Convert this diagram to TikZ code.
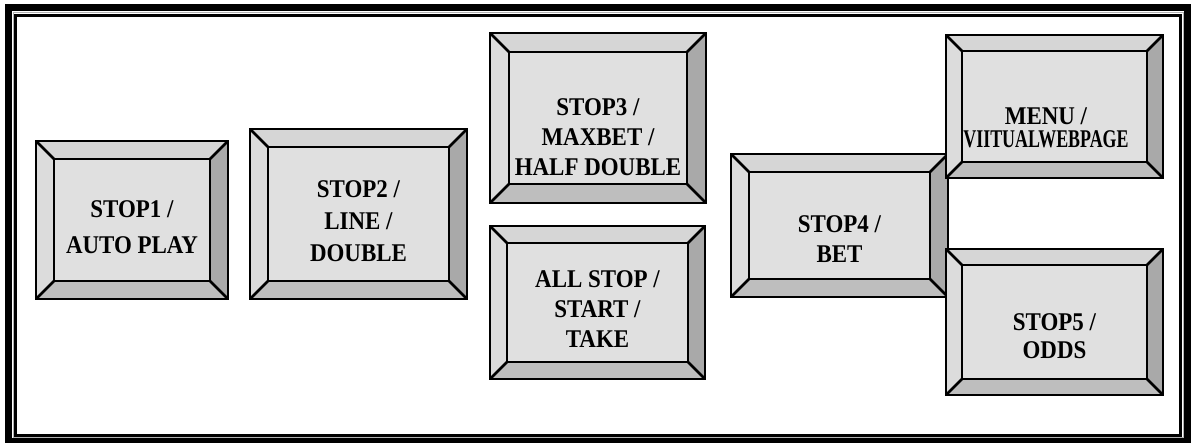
\documentclass[tikz,border=0pt]{standalone}
\usepackage{fontspec}
\setmainfont[FakeStretch=0.9]{Liberation Serif}
\usepackage{graphicx}

\definecolor{keyface}{HTML}{E0E0E0}
\definecolor{keytop}{HTML}{D6D6D6}
\definecolor{keyleft}{HTML}{DCDCDC}
\definecolor{keyright}{HTML}{A9A9A9}
\definecolor{keybottom}{HTML}{BEBEBE}

\tikzset{
	keyedge/.style={draw=black, line width=2.6pt, line join=miter},
	keylabel/.style={align=center, inner sep=0pt, font=\bfseries\fontsize{25.5}{30}\selectfont},
}

% bevelled key: x1, y1, x2, y2, bevel (pixel units, y down)
\newcommand{\bevelkey}[5]{%
	\fill[keyface] (#1+#5,#2+#5) rectangle (#3-#5,#4-#5);
	\fill[keytop] (#1,#2) -- (#3,#2) -- (#3-#5,#2+#5) -- (#1+#5,#2+#5) -- cycle;
	\fill[keyleft] (#1,#2) -- (#1+#5,#2+#5) -- (#1+#5,#4-#5) -- (#1,#4) -- cycle;
	\fill[keyright] (#3,#2) -- (#3,#4) -- (#3-#5,#4-#5) -- (#3-#5,#2+#5) -- cycle;
	\fill[keybottom] (#1,#4) -- (#1+#5,#4-#5) -- (#3-#5,#4-#5) -- (#3,#4) -- cycle;
	\draw[keyedge] (#1,#2) rectangle (#3,#4);
	\draw[keyedge] (#1+#5,#2+#5) rectangle (#3-#5,#4-#5);
	\draw[keyedge] (#1,#2) -- (#1+#5,#2+#5);
	\draw[keyedge] (#3,#2) -- (#3-#5,#2+#5);
	\draw[keyedge] (#1,#4) -- (#1+#5,#4-#5);
	\draw[keyedge] (#3,#4) -- (#3-#5,#4-#5);
}

\begin{document}
\begin{tikzpicture}[x=1pt, y=-1pt]
	\useasboundingbox (0,0) rectangle (1192,443);
	% frame
	\draw[line width=7pt] (8.5,7.5) rectangle (1187.5,441.5);
	\draw[line width=1pt, gray!60] (13,13) rectangle (1183,438);
	\draw[line width=2.4pt] (15.5,15.5) rectangle (1180.5,435.5);

	% keys
	\bevelkey{36}{141}{228}{299}{18}
	\bevelkey{250}{129}{467}{299}{18}
	\bevelkey{490}{33}{706}{203}{19}
	\bevelkey{490}{226}{705}{379}{17}
	\bevelkey{731}{154}{948}{297}{18}
	\bevelkey{946}{35}{1163}{178}{16}
	\bevelkey{946}{249}{1163}{395}{16}

	% labels
	\node[keylabel, font=\bfseries\fontsize{25.5}{36}\selectfont] (stop1) at (132,227) {STOP1 /\\AUTO PLAY};
	\node[keylabel, font=\bfseries\fontsize{25.5}{32}\selectfont] (stop2) at (358.5,221) {STOP2 /\\LINE /\\DOUBLE};
	\node[keylabel] (stop3) at (598,137) {STOP3 /\\MAXBET /\\HALF DOUBLE};
	\node[keylabel] (allstop) at (597.5,309) {ALL STOP /\\START /\\TAKE};
	\node[keylabel] (stop4) at (839.5,239) {STOP4 /\\BET};
	\node[keylabel, font=\bfseries\fontsize{25.5}{23}\selectfont] (menu) at (1046,128) {MENU /\\\scalebox{0.78}[1]{VIITUALWEBPAGE}};
	\node[keylabel, font=\bfseries\fontsize{25.5}{28}\selectfont] (stop5) at (1054.5,336) {STOP5 /\\ODDS};
\end{tikzpicture}
\end{document}
